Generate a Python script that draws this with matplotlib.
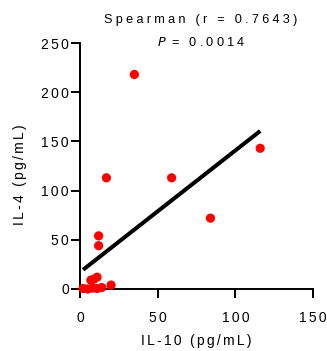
import matplotlib
matplotlib.use('Agg')
import matplotlib.pyplot as plt
import numpy as np

# IL-10 vs IL-4 per sample
il10 = np.array([2, 5, 8, 11, 14, 20, 7, 11, 9, 12, 12, 17, 59, 84, 116, 35])
il4 = np.array([0.5, 0, 1, 0.5, 1.5, 4, 9, 12, 10, 54, 44, 113, 113, 72, 143, 218])

x_ticks = [0, 50, 100, 150]
y_ticks = [0, 50, 100, 150, 200, 250]
title_line1 = 'Spearman (r = 0.7643)'
title_line2 = ' = 0.0014'
x_label = 'IL-10 (pg/mL)'
y_label = 'IL-4 (pg/mL)'

plt.rcParams['font.family'] = ['Liberation Sans', 'DejaVu Sans']


def spaced(s, gap='\u2006'):
    return gap.join(s)


W, H = 327, 351
fig = plt.figure(figsize=(W / 100, H / 100), dpi=100)
ax = fig.add_axes([80 / W, (H - 289) / H, 233 / W, 246 / H])

ax.scatter(il10, il4, s=44, color='#ff0000', edgecolors='none', zorder=3, clip_on=False)

k, b = np.polyfit(il10, il4, 1)
xs = np.array([il10.min(), il10.max()])
ax.plot(xs, k * xs + b, color='black', lw=2.9, solid_capstyle='butt', zorder=2)

ax.set_xlim(0, 150)
ax.set_ylim(0, 250)
ax.set_xticks(x_ticks)
ax.set_yticks(y_ticks)
ax.set_xticklabels([spaced(str(t)) for t in x_ticks])
ax.set_yticklabels([spaced(str(t)) for t in y_ticks])
ax.tick_params(labelsize=10, width=1.4, length=6.5, colors='black', pad=1.5)
ax.tick_params(axis='x', pad=9)

for side in ['top', 'right']:
    ax.spines[side].set_visible(False)
for side in ['left', 'bottom']:
    ax.spines[side].set_linewidth(1.4)

fig.text(196.5 / W, 1 - 341 / H, spaced(x_label), ha='center', va='center', fontsize=10)
fig.text(20 / W, 1 - 175 / H, spaced(y_label), ha='center', va='center', rotation=90, fontsize=10)

fig.text(201 / W, 1 - 20 / H, spaced(title_line1, '\u2005'), ha='center', va='center', fontsize=9.2)
fig.text(201 / W, 1 - 43 / H, '$\\it{P}$' + spaced(title_line2, '\u2005'), ha='center', va='center', fontsize=9.2)

fig.savefig('out.png', dpi=100)
